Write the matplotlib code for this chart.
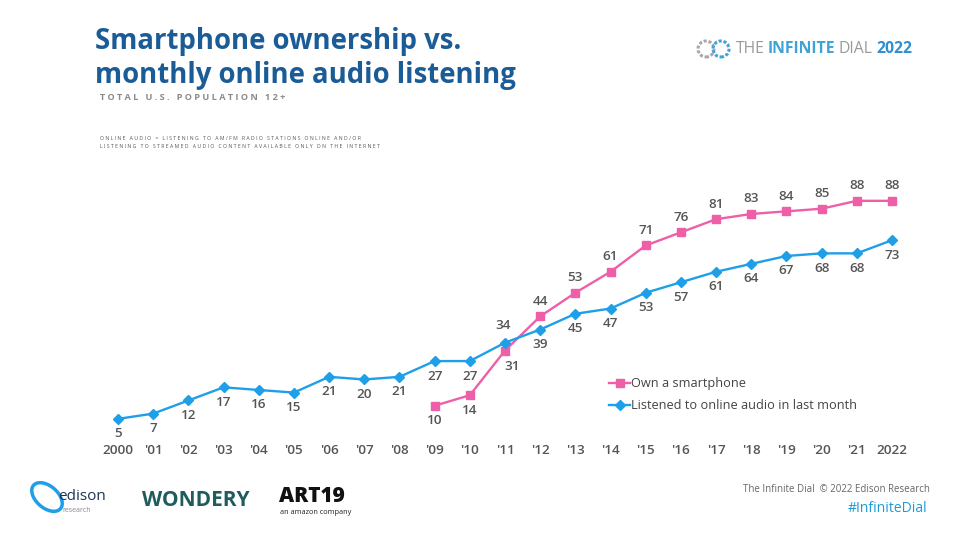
import matplotlib.pyplot as plt
from matplotlib.patches import Ellipse

plt.rcParams['font.family'] = ['Open Sans', 'DejaVu Sans']

years = ['2000', "'01", "'02", "'03", "'04", "'05", "'06", "'07", "'08", "'09", "'10",
         "'11", "'12", "'13", "'14", "'15", "'16", "'17", "'18", "'19", "'20", "'21", '2022']
online_audio = [5, 7, 12, 17, 16, 15, 21, 20, 21, 27, 27, 34, 39, 45, 47, 53, 57, 61, 64, 67, 68, 68, 73]
smartphone = [10, 14, 31, 44, 53, 61, 71, 76, 81, 83, 84, 85, 88, 88]
smart_start = 9  # smartphone series starts in 2009

pink = '#EE5FA7'
blue = '#1E9FE8'
label_col = '#555555'

fig = plt.figure(figsize=(9.6, 5.4), dpi=100)
ax = fig.add_axes([100 / 960, 108 / 540, 810 / 960, 262.7 / 540])

x_all = list(range(len(years)))
x_smart = list(range(smart_start, len(years)))

ax.plot(x_smart, smartphone, color=pink, lw=1.7, marker='s', ms=6,
        label='Own a smartphone')
ax.plot(x_all, online_audio, color=blue, lw=1.7, marker='D', ms=5.5,
        label='Listened to online audio in last month')

# data labels
for i, v in zip(x_smart, smartphone):
    if v in (10, 14):
        off = (0, -15)
    elif v == 31:
        off = (7, -16)
    else:
        off = (0, 15)
    ax.annotate(str(v), (i, v), xytext=off, textcoords='offset pixels',
                ha='center', va='center', fontsize=9.7, color=label_col, fontweight='semibold')
for i, v in zip(x_all, online_audio):
    off = (-2, 17) if i == 11 else (0, -15)
    ax.annotate(str(v), (i, v), xytext=off, textcoords='offset pixels',
                ha='center', va='center', fontsize=9.7, color=label_col, fontweight='semibold')

ax.set_xlim(-0.512, 22.512)
ax.set_ylim(0, 100)
ax.set_xticks(x_all)
ax.set_xticklabels(years, fontsize=9.7, color=label_col, fontweight='semibold')
ax.tick_params(axis='x', length=0, pad=9)
ax.set_yticks([])
for s in ax.spines.values():
    s.set_visible(False)

leg = ax.legend(loc='upper left', bbox_to_anchor=(603 / 960, 1 - 371 / 540),
                bbox_transform=fig.transFigure, frameon=False, fontsize=9.2,
                handlelength=1.6, handletextpad=0.1, labelspacing=0.7, borderpad=0)
for t in leg.get_texts():
    t.set_color('#444444')

# titles
title_col = '#1B5C97'
fig.text(95 / 960, 1 - 41 / 540, 'Smartphone ownership vs.', fontsize=19.8, fontweight='bold',
         color=title_col, va='center', ha='left')
fig.text(95 / 960, 1 - 75 / 540, 'monthly online audio listening', fontsize=19.8, fontweight='bold',
         color=title_col, va='center', ha='left')
fig.text(100 / 960, 1 - 98 / 540, 'T O T A L   U . S .   P O P U L A T I O N   1 2 +',
         fontsize=6.6, fontweight='bold', color='#8A8A8A', va='center', ha='left')
fig.text(100 / 960, 1 - 138 / 540,
         'O N L I N E   A U D I O   =   L I S T E N I N G   T O   A M / F M   R A D I O   S T A T I O N S   O N L I N E   A N D / O R',
         fontsize=3.7, color='#555555', va='center', ha='left')
fig.text(100 / 960, 1 - 146 / 540,
         'L I S T E N I N G   T O   S T R E A M E D   A U D I O   C O N T E N T   A V A I L A B L E   O N L Y   O N   T H E   I N T E R N E T',
         fontsize=3.7, color='#555555', va='center', ha='left')

# top right logo
fig.add_artist(Ellipse((706 / 960, 1 - 49 / 540), 16 / 960, 16 / 540, fill=False,
                       ec='#A8A8A8', lw=2.2, ls=(0, (1, 0.6))))
fig.add_artist(Ellipse((721 / 960, 1 - 49 / 540), 16 / 960, 16 / 540, fill=False,
                       ec='#3FA3D6', lw=2.2, ls=(0, (1, 0.6))))
y_logo = 1 - 49 / 540
fig.text(736 / 960, y_logo, 'THE', fontsize=11.3, color='#9A9A9A', va='center', ha='left')
fig.text(768 / 960, y_logo, 'INFINITE', fontsize=11.3, fontweight='bold', color='#3FA3D6', va='center', ha='left')
fig.text(838 / 960, y_logo, 'DIAL', fontsize=11.3, color='#9A9A9A', va='center', ha='left')
fig.text(876 / 960, y_logo, '2022', fontsize=11.3, fontweight='bold', color='#2F8FD0', va='center', ha='left')

# footer logos
fig.add_artist(Ellipse((47 / 960, 1 - 497 / 540), 26 / 960, 30 / 540, fill=False,
                       ec='#1E9FE8', lw=2.5, angle=20))
fig.text(58 / 960, 1 - 497 / 540, 'edison', fontsize=11, color='#1A3553', va='center', ha='left')
fig.text(62 / 960, 1 - 511 / 540, 'research', fontsize=5, color='#888888', va='center', ha='left')
fig.text(142 / 960, 1 - 500 / 540, 'WONDERY', fontsize=15, fontweight='bold', color='#1F5C5B',
         va='center', ha='left')
fig.text(279 / 960, 1 - 496 / 540, 'ART19', fontsize=15, fontweight='heavy', color='#111111',
         va='center', ha='left')
fig.text(280 / 960, 1 - 512 / 540, 'an amazon company', fontsize=5.3, color='#222222',
         va='center', ha='left')

fig.text(930 / 960, 1 - 490 / 540, 'The Infinite Dial  © 2022 Edison Research', fontsize=7,
         color='#666666', va='center', ha='right')
fig.text(927 / 960, 1 - 509 / 540, '#InfiniteDial', fontsize=10, color='#1E9BD6',
         va='center', ha='right')

fig.savefig('out.png', dpi=100)
